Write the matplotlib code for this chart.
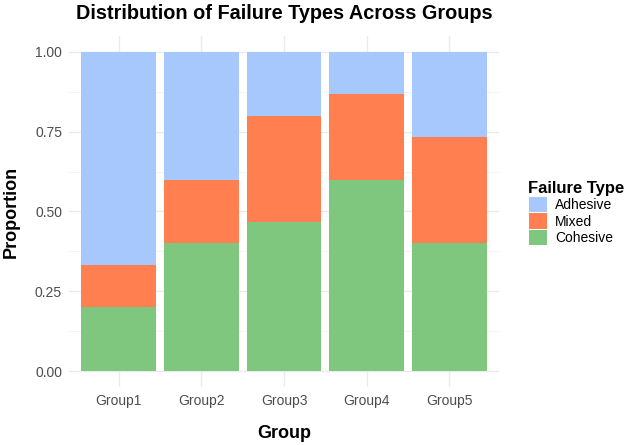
import matplotlib
matplotlib.use("Agg")
import matplotlib.pyplot as plt
import numpy as np

plt.rcParams['font.family'] = ['Liberation Sans', 'DejaVu Sans']

# data (proportions per group)
groups = ["Group1", "Group2", "Group3", "Group4", "Group5"]
cohesive = [0.200, 0.400, 0.467, 0.600, 0.400]
mixed = [0.133, 0.200, 0.333, 0.267, 0.333]
adhesive = [0.667, 0.400, 0.200, 0.133, 0.267]

colors = {"Adhesive": "#A6C8FC", "Mixed": "#FF7F50", "Cohesive": "#7FC77F"}

fig = plt.figure(figsize=(6.25, 4.45), dpi=100)
ax = fig.add_axes([69 / 625, 1 - 387 / 445, 430 / 625, 351 / 445])

x = np.arange(1, len(groups) + 1)
c = np.array(cohesive)
m = np.array(mixed)
a = np.array(adhesive)
b1 = ax.bar(x, c, width=0.9, color=colors["Cohesive"], label="Cohesive", zorder=2)
b2 = ax.bar(x, m, width=0.9, bottom=c, color=colors["Mixed"], label="Mixed", zorder=2)
b3 = ax.bar(x, a, width=0.9, bottom=c + m, color=colors["Adhesive"], label="Adhesive", zorder=2)

ax.set_xlim(0.4, 5.6)
ax.set_ylim(-0.05, 1.05)
ax.set_xticks(x)
ax.set_xticklabels(groups)
ax.set_yticks([0, 0.25, 0.5, 0.75, 1.0])
ax.set_yticklabels(["0.00", "0.25", "0.50", "0.75", "1.00"])
ax.set_yticks([0.125, 0.375, 0.625, 0.875], minor=True)

ax.grid(True, which="major", color="#EBEBEB", linewidth=1.0, zorder=0)
ax.grid(True, which="minor", axis="y", color="#F3F3F3", linewidth=0.6, zorder=0)
for s in ax.spines.values():
    s.set_visible(False)
ax.tick_params(which="both", length=0, labelsize=10, labelcolor="#4D4D4D", pad=5)

ax.set_title("Distribution of Failure Types Across Groups", fontsize=14.3, fontweight="bold", pad=12)
ax.set_xlabel("Group", fontsize=13, fontweight="bold", labelpad=12.5)
ax.set_ylabel("Proportion", fontsize=13, fontweight="bold", labelpad=11)

leg = ax.legend(handles=[b3, b2, b1], title="Failure Type", frameon=False,
                loc="center left", bbox_to_anchor=(516 / 625, 1 - 213 / 445),
                bbox_transform=fig.transFigure, fontsize=10,
                title_fontproperties={"weight": "bold", "size": 12},
                handlelength=1.3, handleheight=1.3, handletextpad=0.6,
                labelspacing=0.08, alignment="left")

fig.savefig("out.png", dpi=100)
